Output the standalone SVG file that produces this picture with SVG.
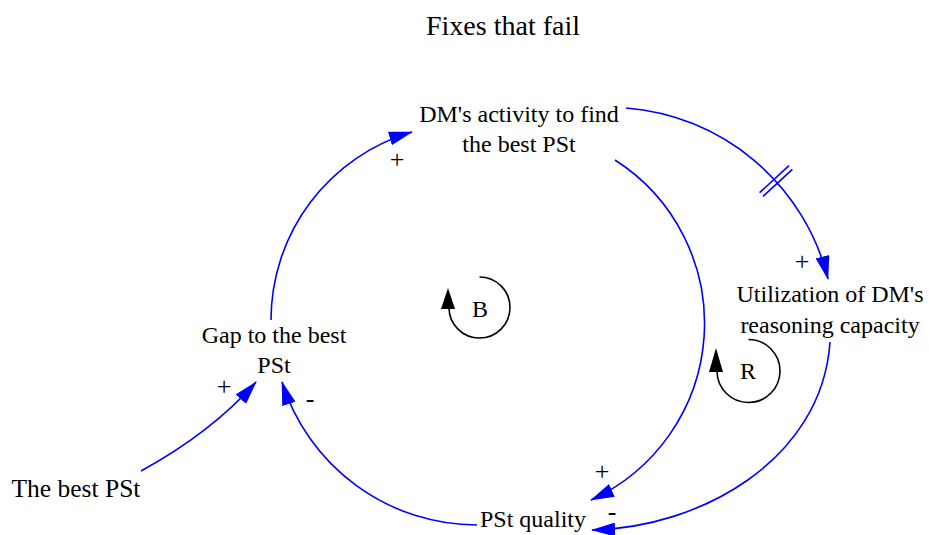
<svg xmlns="http://www.w3.org/2000/svg" width="929" height="535" viewBox="0 0 929 535">
<style>
  .lbl { font-size: 24px; text-anchor: middle; }
  .title { font-size: 28px; text-anchor: middle; }
  .sign { font-size: 26px; text-anchor: middle; }
  .link { fill: none; stroke: #0000FF; stroke-width: 1.6; marker-end: url(#ah); }
  .loop { fill: none; stroke: #000; stroke-width: 1.6; }
  .hash { stroke: #0000FF; stroke-width: 1.6; }
</style>
<defs>
  <marker id="ah" viewBox="0 0 24 14" refX="23" refY="7" markerWidth="24" markerHeight="14" markerUnits="userSpaceOnUse" orient="auto">
    <path d="M0,0 L24,7 L0,14 z" fill="#0000FF"/>
  </marker>
</defs>
<rect width="929" height="535" fill="#fff"/>
<g font-family="'Liberation Serif', 'Times New Roman', 'DejaVu Serif', serif" fill="#000">
<text class="title" x="503" y="35">Fixes that fail</text>

<g id="connectors">
  <path class="link" d="M271,320 A196,196 0 0 1 412,132"/>
  <path class="link" d="M626,108 A226,226 0 0 1 828,279"/>
  <path class="link" d="M615,160 A194,194 0 0 1 591,500"/>
  <path class="link" d="M830,342 C822,460 700,528 592,530"/>
  <path class="link" d="M477,525 A204.5,204.5 0 0 1 282,382"/>
  <path class="link" d="M141,471 Q212,432 256,382"/>
  <line class="hash" x1="759.6" y1="192.7" x2="789" y2="165.7"/>
  <line class="hash" x1="763" y1="196.3" x2="792.4" y2="169.3"/>
  <text class="sign" x="397" y="168">+</text>
  <text class="sign" x="802" y="270">+</text>
  <text class="sign" x="602" y="480">+</text>
  <text class="sign" x="612" y="520">-</text>
  <text class="sign" x="224" y="395">+</text>
  <text class="sign" x="310" y="407">-</text>
</g>

<g id="node-dm">
  <text class="lbl" x="519" y="122">DM's activity to find</text>
  <text class="lbl" x="519" y="152">the best PSt</text>
</g>
<g id="node-util">
  <text class="lbl" x="830" y="302">Utilization of DM's</text>
  <text class="lbl" x="830" y="333">reasoning capacity</text>
</g>
<g id="node-gap">
  <text class="lbl" x="274" y="343">Gap to the best</text>
  <text class="lbl" x="274" y="373">PSt</text>
</g>
<g id="node-best">
  <text class="lbl" x="76" y="497" style="font-size:25.5px">The best PSt</text>
</g>
<g id="node-quality">
  <text class="lbl" x="533" y="527">PSt quality</text>
</g>

<g id="loop-B">
  <path class="loop" d="M479.5,277 A30.5,30.5 0 1 1 449,307.5"/>
  <polygon points="448,288 441,309 455,309" fill="#000"/>
  <text class="lbl" x="480" y="317">B</text>
</g>
<g id="loop-R">
  <path class="loop" d="M748.5,339.5 A31.5,31.5 0 1 1 717,371"/>
  <polygon points="716,348 709,372 723,372" fill="#000"/>
  <text class="lbl" x="748" y="379">R</text>
</g>
</g>
</svg>
